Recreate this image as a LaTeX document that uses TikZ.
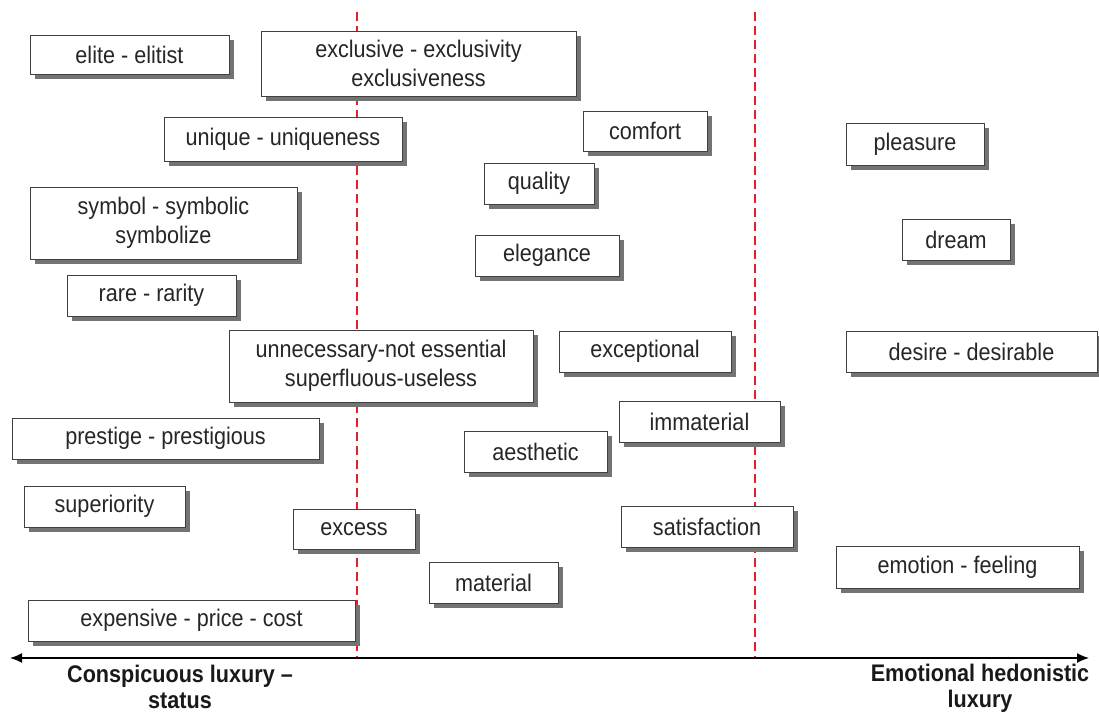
\documentclass[tikz,border=0pt]{standalone}
\usepackage{fontspec}
\setmainfont{Liberation Sans}[FakeStretch=0.9]
\usetikzlibrary{shadows,arrows.meta}
\definecolor{dashred}{HTML}{E02030}
\begin{document}
\begin{tikzpicture}[x=1pt,y=-1pt,
  box/.style={draw=black!75, line width=0.8pt, fill=white, align=center, inner sep=0pt,
    text=black!85, font=\fontsize{24}{29}\selectfont,
    drop shadow={shadow xshift=5pt, shadow yshift=-5pt, fill=black!55, opacity=1}},
  divider/.style={draw=dashred, line width=2pt, dash pattern=on 9pt off 5pt},
  axisline/.style={line width=1.5pt, {Latex[length=12pt,width=10pt]}-{Latex[length=12pt,width=10pt]}},
  lbl/.style={align=center, inner sep=0pt, font=\bfseries\fontsize{24}{26}\selectfont, text=black!90}]
\newcommand\bx[6]{\node[box, minimum width=#4pt, minimum height=#5pt] (#1) at (#2,#3) {#6};}
\path[use as bounding box] (0,0) rectangle (1099,714);
% dividers
\coordinate (r1t) at (357,12); \coordinate (r1b) at (357,658);
\coordinate (r2t) at (755,12); \coordinate (r2b) at (755,658);
\draw[divider] (r1t) -- (r1b);
\draw[divider] (r2t) -- (r2b);
% boxes
\bx{elite}{129.5}{54.5}{199}{39}{elite - elitist}
\bx{excl}{418.5}{63.5}{315}{65}{exclusive - exclusivity\\exclusiveness}
\bx{uniq}{283}{139}{238}{44}{unique - uniqueness}
\bx{comf}{645}{131}{124}{40}{comfort}
\bx{plea}{915}{144}{138}{42}{pleasure}
\bx{qual}{539}{183.5}{110}{41}{quality}
\bx{symb}{163.5}{223}{267}{72}{symbol - symbolic\\symbolize}
\bx{drea}{956}{239.5}{108}{41}{dream}
\bx{eleg}{547}{255.5}{144}{41}{elegance}
\bx{rare}{151.5}{295.5}{169}{41}{rare - rarity}
\bx{unne}{381}{366}{304}{72}{unnecessary-not essential\\superfluous-useless}
\bx{exce}{645}{351.5}{172}{41}{exceptional}
\bx{desi}{971.5}{351.5}{251}{41}{desire - desirable}
\bx{imma}{699.5}{421.5}{161}{41}{immaterial}
\bx{pres}{165.5}{438.5}{307}{41}{prestige - prestigious}
\bx{aest}{535.5}{451.5}{143}{41}{aesthetic}
\bx{supe}{104.5}{506.5}{161}{41}{superiority}
\bx{exss}{354}{529}{122}{40}{excess}
\bx{sati}{707}{526.5}{172}{41}{satisfaction}
\bx{emot}{957.5}{567}{243}{42}{emotion - feeling}
\bx{mate}{493.5}{582.5}{129}{41}{material}
\bx{expe}{191.5}{620.5}{327}{41}{expensive - price - cost}
% axis
\coordinate (al) at (10,658); \coordinate (ar) at (1089,658);
\draw[axisline] (al) -- (ar);
\node[lbl] (lc) at (180,687) {Conspicuous luxury --\\status};
\node[lbl] (le) at (980,688) {Emotional hedonistic\\luxury};
\end{tikzpicture}
\end{document}
